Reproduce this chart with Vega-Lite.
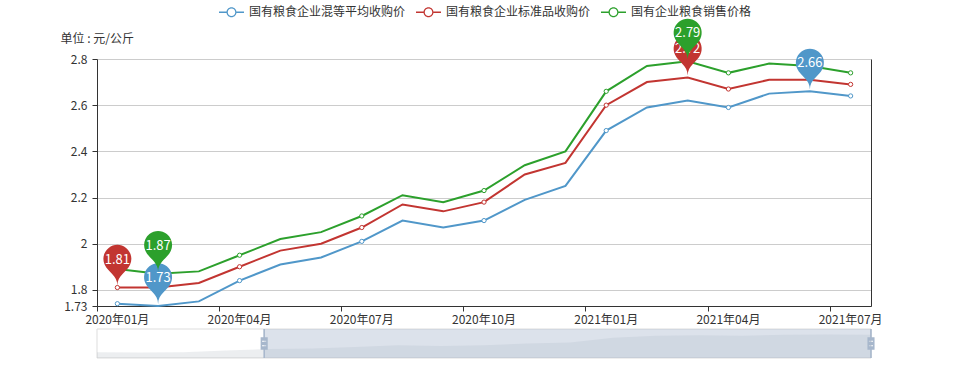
{
  "$schema": "https://vega.github.io/schema/vega-lite/v6.json",
  "autosize": "none",
  "padding": {"left": 97, "top": 59, "right": 97, "bottom": 60},
  "width": 774,
  "height": 247,
  "background": "white",
  "config": {
    "font": "Noto Sans CJK SC",
    "view": {"stroke": null},
    "axis": {"labelFont": "Noto Sans CJK SC", "titleFont": "Noto Sans CJK SC"},
    "legend": {"labelFont": "Noto Sans CJK SC"}
  },
  "datasets": {
    "prices": [
      {"month": "2020年01月", "series": "国有粮食企业混等平均收购价", "value": 1.74},
      {"month": "2020年02月", "series": "国有粮食企业混等平均收购价", "value": 1.73},
      {"month": "2020年03月", "series": "国有粮食企业混等平均收购价", "value": 1.75},
      {"month": "2020年04月", "series": "国有粮食企业混等平均收购价", "value": 1.84},
      {"month": "2020年05月", "series": "国有粮食企业混等平均收购价", "value": 1.91},
      {"month": "2020年06月", "series": "国有粮食企业混等平均收购价", "value": 1.94},
      {"month": "2020年07月", "series": "国有粮食企业混等平均收购价", "value": 2.01},
      {"month": "2020年08月", "series": "国有粮食企业混等平均收购价", "value": 2.10},
      {"month": "2020年09月", "series": "国有粮食企业混等平均收购价", "value": 2.07},
      {"month": "2020年10月", "series": "国有粮食企业混等平均收购价", "value": 2.10},
      {"month": "2020年11月", "series": "国有粮食企业混等平均收购价", "value": 2.19},
      {"month": "2020年12月", "series": "国有粮食企业混等平均收购价", "value": 2.25},
      {"month": "2021年01月", "series": "国有粮食企业混等平均收购价", "value": 2.49},
      {"month": "2021年02月", "series": "国有粮食企业混等平均收购价", "value": 2.59},
      {"month": "2021年03月", "series": "国有粮食企业混等平均收购价", "value": 2.62},
      {"month": "2021年04月", "series": "国有粮食企业混等平均收购价", "value": 2.59},
      {"month": "2021年05月", "series": "国有粮食企业混等平均收购价", "value": 2.65},
      {"month": "2021年06月", "series": "国有粮食企业混等平均收购价", "value": 2.66},
      {"month": "2021年07月", "series": "国有粮食企业混等平均收购价", "value": 2.64},
      {"month": "2020年01月", "series": "国有粮食企业标准品收购价", "value": 1.81},
      {"month": "2020年02月", "series": "国有粮食企业标准品收购价", "value": 1.81},
      {"month": "2020年03月", "series": "国有粮食企业标准品收购价", "value": 1.83},
      {"month": "2020年04月", "series": "国有粮食企业标准品收购价", "value": 1.90},
      {"month": "2020年05月", "series": "国有粮食企业标准品收购价", "value": 1.97},
      {"month": "2020年06月", "series": "国有粮食企业标准品收购价", "value": 2.00},
      {"month": "2020年07月", "series": "国有粮食企业标准品收购价", "value": 2.07},
      {"month": "2020年08月", "series": "国有粮食企业标准品收购价", "value": 2.17},
      {"month": "2020年09月", "series": "国有粮食企业标准品收购价", "value": 2.14},
      {"month": "2020年10月", "series": "国有粮食企业标准品收购价", "value": 2.18},
      {"month": "2020年11月", "series": "国有粮食企业标准品收购价", "value": 2.30},
      {"month": "2020年12月", "series": "国有粮食企业标准品收购价", "value": 2.35},
      {"month": "2021年01月", "series": "国有粮食企业标准品收购价", "value": 2.60},
      {"month": "2021年02月", "series": "国有粮食企业标准品收购价", "value": 2.70},
      {"month": "2021年03月", "series": "国有粮食企业标准品收购价", "value": 2.72},
      {"month": "2021年04月", "series": "国有粮食企业标准品收购价", "value": 2.67},
      {"month": "2021年05月", "series": "国有粮食企业标准品收购价", "value": 2.71},
      {"month": "2021年06月", "series": "国有粮食企业标准品收购价", "value": 2.71},
      {"month": "2021年07月", "series": "国有粮食企业标准品收购价", "value": 2.69},
      {"month": "2020年01月", "series": "国有企业粮食销售价格", "value": 1.89},
      {"month": "2020年02月", "series": "国有企业粮食销售价格", "value": 1.87},
      {"month": "2020年03月", "series": "国有企业粮食销售价格", "value": 1.88},
      {"month": "2020年04月", "series": "国有企业粮食销售价格", "value": 1.95},
      {"month": "2020年05月", "series": "国有企业粮食销售价格", "value": 2.02},
      {"month": "2020年06月", "series": "国有企业粮食销售价格", "value": 2.05},
      {"month": "2020年07月", "series": "国有企业粮食销售价格", "value": 2.12},
      {"month": "2020年08月", "series": "国有企业粮食销售价格", "value": 2.21},
      {"month": "2020年09月", "series": "国有企业粮食销售价格", "value": 2.18},
      {"month": "2020年10月", "series": "国有企业粮食销售价格", "value": 2.23},
      {"month": "2020年11月", "series": "国有企业粮食销售价格", "value": 2.34},
      {"month": "2020年12月", "series": "国有企业粮食销售价格", "value": 2.40},
      {"month": "2021年01月", "series": "国有企业粮食销售价格", "value": 2.66},
      {"month": "2021年02月", "series": "国有企业粮食销售价格", "value": 2.77},
      {"month": "2021年03月", "series": "国有企业粮食销售价格", "value": 2.79},
      {"month": "2021年04月", "series": "国有企业粮食销售价格", "value": 2.74},
      {"month": "2021年05月", "series": "国有企业粮食销售价格", "value": 2.78},
      {"month": "2021年06月", "series": "国有企业粮食销售价格", "value": 2.77},
      {"month": "2021年07月", "series": "国有企业粮食销售价格", "value": 2.74}
    ],
    "pins": [
      {"month": "2020年02月", "series": "国有粮食企业混等平均收购价", "value": 1.73},
      {"month": "2021年06月", "series": "国有粮食企业混等平均收购价", "value": 2.66},
      {"month": "2020年01月", "series": "国有粮食企业标准品收购价", "value": 1.81},
      {"month": "2021年03月", "series": "国有粮食企业标准品收购价", "value": 2.72},
      {"month": "2020年02月", "series": "国有企业粮食销售价格", "value": 1.87},
      {"month": "2021年03月", "series": "国有企业粮食销售价格", "value": 2.79}
    ],
    "frame": [{"start": 0, "end": 100}],
    "window": [{"start": 21.6, "end": 100}],
    "handles": [{"pos": 21.6}, {"pos": 100}]
  },
  "layer": [
    {
      "encoding": {
        "x": {
          "field": "month", "type": "ordinal", "sort": null,
          "scale": {"type": "band", "paddingInner": 0, "paddingOuter": 0},
          "axis": {
            "values": ["2020年01月", "2020年04月", "2020年07月", "2020年10月", "2021年01月", "2021年04月", "2021年07月"],
            "bandPosition": 0, "labelAngle": 0, "labelAlign": "center",
            "tickSize": 5, "tickColor": "#333", "domainColor": "#333", "labelColor": "#333",
            "labelFontSize": 12, "labelPadding": 3, "title": null, "grid": false
          }
        }
      },
      "layer": [
        {
          "data": {"name": "prices"},
          "mark": {"type": "line", "strokeWidth": 2},
          "encoding": {
            "y": {
              "field": "value", "type": "quantitative",
              "scale": {"domain": [1.73, 2.8], "nice": false, "zero": false},
              "axis": {
                "orient": "left", "values": [1.73, 1.8, 2, 2.2, 2.4, 2.6, 2.8], "format": ".2~f",
                "grid": true, "gridColor": "#ccc", "domainColor": "#333", "tickColor": "#333", "tickSize": 5,
                "labelColor": "#333", "labelFontSize": 12, "labelPadding": 5,
                "title": "单位 : 元/公斤", "titleAngle": 0, "titleAlign": "left", "titleBaseline": "middle",
                "titleX": -37, "titleY": -21, "titleFontWeight": "normal", "titleFontSize": 12, "titleColor": "#333"
              }
            },
            "color": {
              "field": "series", "type": "nominal",
              "scale": {"domain": ["国有粮食企业混等平均收购价", "国有粮食企业标准品收购价", "国有企业粮食销售价格"], "range": ["#5097c9", "#c23531", "#2ca02c"]},
              "legend": {
                "orient": "none", "direction": "horizontal", "legendX": 122, "legendY": -59.5,
                "title": null, "padding": 0, "columnPadding": 10, "labelOffset": 5,
                "labelFontSize": 12, "labelColor": "#333", "labelLimit": 300,
                "symbolType": "M-1,-0.06L-0.4,-0.06L-0.4,0.06L-1,0.06ZM0.4,-0.06L1,-0.06L1,0.06L0.4,0.06ZM-0.4,0A0.4,0.4,0,1,1,0.4,0A0.4,0.4,0,1,1,-0.4,0ZM-0.3,0A0.3,0.3,0,1,0,0.3,0A0.3,0.3,0,1,0,-0.3,0Z",
                "symbolSize": 625, "symbolStrokeWidth": 0,
                "encode": {"symbols": {"update": {"fill": {"scale": "color", "field": "value"}, "fillOpacity": {"value": 1}, "strokeWidth": {"value": 0}, "opacity": {"value": 1}}}}
              }
            }
          }
        },
        {
          "data": {"name": "prices"},
          "transform": [{"filter": {"field": "month", "oneOf": ["2020年01月", "2020年04月", "2020年07月", "2020年10月", "2021年01月", "2021年04月", "2021年07月"]}}],
          "mark": {"type": "point", "shape": "circle", "filled": false, "fill": "#fff", "size": 18, "strokeWidth": 1, "opacity": 1},
          "encoding": {
            "y": {
              "field": "value", "type": "quantitative",
              "scale": {"domain": [1.73, 2.8], "nice": false, "zero": false},
              "axis": {"orient": "right", "labels": false, "ticks": false, "grid": false, "domainColor": "#333", "title": null}
            },
            "color": {
              "field": "series", "type": "nominal",
              "legend": {
                "orient": "none", "direction": "horizontal", "legendX": 122, "legendY": -59.5,
                "title": null, "padding": 0, "columnPadding": 10, "labelOffset": 5,
                "labelFontSize": 12, "labelColor": "#333", "labelLimit": 300,
                "symbolType": "M-1,-0.06L-0.4,-0.06L-0.4,0.06L-1,0.06ZM0.4,-0.06L1,-0.06L1,0.06L0.4,0.06ZM-0.4,0A0.4,0.4,0,1,1,0.4,0A0.4,0.4,0,1,1,-0.4,0ZM-0.3,0A0.3,0.3,0,1,0,0.3,0A0.3,0.3,0,1,0,-0.3,0Z",
                "symbolSize": 625, "symbolStrokeWidth": 0,
                "encode": {"symbols": {"update": {"fill": {"scale": "color", "field": "value"}, "fillOpacity": {"value": 1}, "strokeWidth": {"value": 0}, "opacity": {"value": 1}}}}
              }
            }
          }
        },
        {
          "data": {"name": "pins"},
          "transform": [{"filter": "datum.series !== '国有企业粮食销售价格'"}],
          "mark": {"type": "point", "shape": "M-0.9035,-1.476A1,1,0,1,1,0.9035,-1.476C0.6464,-0.934,0,-0.7,0,0C0,-0.7,-0.6464,-0.934,-0.9035,-1.476Z", "filled": true, "size": 784, "yOffset": -2, "opacity": 1, "strokeWidth": 0},
          "encoding": {
            "y": {"field": "value", "type": "quantitative", "scale": {"domain": [1.73, 2.8], "nice": false, "zero": false}, "axis": null},
            "fill": {
              "field": "series", "type": "nominal", "legend": null,
              "scale": {"domain": ["国有粮食企业混等平均收购价", "国有粮食企业标准品收购价", "国有企业粮食销售价格"], "range": ["#5097c9", "#c23531", "#2ca02c"]}
            }
          }
        },
        {
          "data": {"name": "pins"},
          "transform": [{"filter": "datum.series !== '国有企业粮食销售价格'"}],
          "mark": {"type": "text", "color": "#fff", "dy": -28, "fontSize": 13, "baseline": "middle", "align": "center"},
          "encoding": {
            "y": {"field": "value", "type": "quantitative", "scale": {"domain": [1.73, 2.8], "nice": false, "zero": false}, "axis": null},
            "text": {"field": "value", "type": "quantitative", "format": ".2f"}
          }
        },
        {
          "data": {"name": "pins"},
          "transform": [{"filter": "datum.series === '国有企业粮食销售价格'"}],
          "mark": {"type": "point", "shape": "M-0.9035,-1.476A1,1,0,1,1,0.9035,-1.476C0.6464,-0.934,0,-0.7,0,0C0,-0.7,-0.6464,-0.934,-0.9035,-1.476Z", "filled": true, "size": 784, "yOffset": -2, "opacity": 1, "strokeWidth": 0},
          "encoding": {
            "y": {"field": "value", "type": "quantitative", "scale": {"domain": [1.73, 2.8], "nice": false, "zero": false}, "axis": null},
            "fill": {
              "field": "series", "type": "nominal", "legend": null,
              "scale": {"domain": ["国有粮食企业混等平均收购价", "国有粮食企业标准品收购价", "国有企业粮食销售价格"], "range": ["#5097c9", "#c23531", "#2ca02c"]}
            }
          }
        },
        {
          "data": {"name": "pins"},
          "transform": [{"filter": "datum.series === '国有企业粮食销售价格'"}],
          "mark": {"type": "text", "color": "#fff", "dy": -28, "fontSize": 13, "baseline": "middle", "align": "center"},
          "encoding": {
            "y": {"field": "value", "type": "quantitative", "scale": {"domain": [1.73, 2.8], "nice": false, "zero": false}, "axis": null},
            "text": {"field": "value", "type": "quantitative", "format": ".2f"}
          }
        }
      ],
      "resolve": {"axis": {"y": "independent"}}
    },
    {
      "data": {"name": "frame"},
      "mark": {"type": "rect", "fill": "#fff", "stroke": "#ddd", "strokeWidth": 1},
      "encoding": {
        "x": {"field": "start", "type": "quantitative", "scale": {"domain": [0, 100], "nice": false, "zero": false}, "axis": null},
        "x2": {"field": "end"},
        "y": {"datum": 1.451, "type": "quantitative", "scale": {"domain": [1.451, 2.939], "range": [299, 270], "nice": false, "zero": false}, "axis": null},
        "y2": {"datum": 2.939}
      }
    },
    {
      "data": {"name": "prices"},
      "transform": [{"filter": "datum.series === '国有粮食企业混等平均收购价'"}],
      "mark": {"type": "area", "color": "#2f4554", "opacity": 0.09},
      "encoding": {
        "x": {"field": "month", "type": "ordinal", "sort": null, "scale": {"type": "point", "padding": 0}, "axis": null},
        "y": {"field": "value", "type": "quantitative", "scale": {"domain": [1.451, 2.939], "range": [299, 270], "nice": false, "zero": false}, "axis": null},
        "y2": {"datum": 1.451}
      }
    },
    {
      "data": {"name": "window"},
      "mark": {"type": "rect", "color": "#a7b7cc", "opacity": 0.4},
      "encoding": {
        "x": {"field": "start", "type": "quantitative", "scale": {"domain": [0, 100], "nice": false, "zero": false}, "axis": null},
        "x2": {"field": "end"},
        "y": {"datum": 1.451, "type": "quantitative", "scale": {"domain": [1.451, 2.939], "range": [299, 270], "nice": false, "zero": false}, "axis": null},
        "y2": {"datum": 2.939}
      }
    },
    {
      "data": {"name": "handles"},
      "mark": {"type": "point", "shape": "M0.0525,-0.4344L0.0525,-1L-0.0583,-1L-0.0583,-0.4344L-0.2449,-0.4344L-0.2449,0.4344L-0.0525,0.4344L-0.0525,1L0.0525,1L0.0525,0.4344L0.2449,0.4344L0.2449,-0.4344ZM0.1399,0.1953L-0.1458,0.1953L-0.1458,0.1137L0.1399,0.1137ZM0.1399,-0.1137L-0.1458,-0.1137L-0.1458,-0.1953L0.1399,-0.1953Z", "filled": true, "size": 841, "color": "#a7b7cc", "opacity": 1},
      "encoding": {
        "x": {"field": "pos", "type": "quantitative", "scale": {"domain": [0, 100], "nice": false, "zero": false}, "axis": null},
        "y": {"datum": 2.195, "type": "quantitative", "scale": {"domain": [1.451, 2.939], "range": [299, 270], "nice": false, "zero": false}, "axis": null}
      }
    }
  ],
  "resolve": {"scale": {"x": "independent", "y": "independent"}}
}
